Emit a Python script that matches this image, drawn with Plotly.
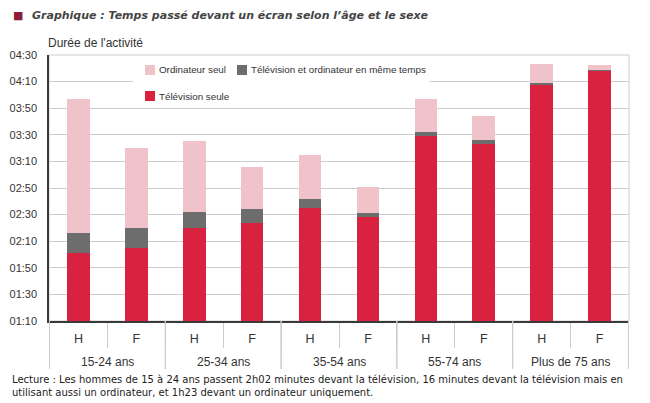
import plotly.graph_objects as go

# ---- data (minutes) ----
groupes = ["15-24 ans", "15-24 ans", "25-34 ans", "25-34 ans", "35-54 ans",
           "35-54 ans", "55-74 ans", "55-74 ans", "Plus de 75 ans", "Plus de 75 ans"]
sexes = ["H", "F", "H", "F", "H", "F", "H", "F", "H", "F"]
tv_seule = [121, 125, 140, 144, 155, 148, 209, 203, 248, 258]
tv_ordi = [15, 15, 12, 10, 7, 3, 3, 3, 1, 0.5]
ordi_seul = [101, 60, 53, 32, 33, 20, 25, 18, 14, 4]
y_tick_labels = ["01:10", "01:30", "01:50", "02:10", "02:30", "02:50",
                 "03:10", "03:30", "03:50", "04:10", "04:30"]
series_names = ["Télévision seule", "Télévision et ordinateur en même temps", "Ordinateur seul"]


def to_min(s):
    h, m = s.split(":")
    return int(h) * 60 + int(m)


y_tick_vals = [to_min(s) for s in y_tick_labels]
cats = [g + " | " + s for g, s in zip(groupes, sexes)]

W, H = 650, 403
L, R, T, B = 49, 21, 55, 82
PW, PH = W - L - R, H - T - B


def px(x):
    return (x - L) / PW


def py(y):
    return (H - B - y) / PH


RED = "#d8223f"
GRAY = "#6d6d6d"
PINK = "#f0c3cb"
GRID = "#cccccc"
AXIS = "#3a3a3a"
COLORS = [RED, GRAY, PINK]
SANS = "Liberation Sans, Arial, sans-serif"

fig = go.Figure()
for name, vals, col in zip(series_names, [tv_seule, tv_ordi, ordi_seul], COLORS):
    fig.add_bar(x=cats, y=vals, name=name, marker=dict(color=col, line=dict(width=0)))

# group labels and dividers (positions from category indices)
group_order = []
for g in groupes:
    if g not in group_order:
        group_order.append(g)
annotations = []
shapes = [
    dict(type="rect", xref="paper", yref="paper", x0=0, x1=1, y0=0, y1=1,
         line=dict(color=GRID, width=1), layer="below"),
    dict(type="rect", xref="paper", yref="paper", x0=px(133), x1=px(430),
         y0=py(96), y1=py(58), fillcolor="white", line=dict(width=0), layer="above"),
]
for g in group_order:
    idx = [i for i, gg in enumerate(groupes) if gg == g]
    annotations.append(dict(xref="x", yref="paper", x=sum(idx) / len(idx), y=py(362),
                            xanchor="center", yanchor="middle", showarrow=False, text=g,
                            font=dict(family=SANS, size=12, color="#333333")))
    for b in (min(idx) - 0.5, max(idx) + 0.5):
        shapes.append(dict(type="line", xref="x", yref="paper", x0=b, x1=b,
                           y0=0, y1=py(369), line=dict(color=GRID, width=1)))

# legend (drawn as squares + labels)
legend_pos = {"Ordinateur seul": (145, 70), "Télévision et ordinateur en même temps": (237, 70),
              "Télévision seule": (145, 96)}
for name, col in zip(series_names, COLORS):
    lx, ly = legend_pos[name]
    shapes.append(dict(type="rect", xref="paper", yref="paper", x0=px(lx), x1=px(lx + 10),
                       y0=py(ly + 5), y1=py(ly - 5), fillcolor=col, line=dict(width=0),
                       layer="above"))
    annotations.append(dict(xref="paper", yref="paper", x=px(lx + 12), y=py(ly),
                            xanchor="left", yanchor="middle", showarrow=False, text=name,
                            font=dict(family=SANS, size=9.8, color="#333333")))

annotations += [
    dict(xref="paper", yref="paper", x=px(11), y=py(15), xanchor="left", yanchor="middle",
         showarrow=False, text="■",
         font=dict(family="DejaVu Sans", size=11, color="#8c1c3c")),
    dict(xref="paper", yref="paper", x=px(30), y=py(15), xanchor="left", yanchor="middle",
         showarrow=False,
         text="<b><i>Graphique : Temps passé devant un écran selon l’âge et le sexe</i></b>",
         font=dict(family="DejaVu Sans", size=11, color="#454545")),
    dict(xref="paper", yref="paper", x=px(46), y=py(43), xanchor="left", yanchor="middle",
         showarrow=False, text="Durée de l'activité",
         font=dict(family=SANS, size=12, color="#333333")),
    dict(xref="paper", yref="paper", x=px(10), y=py(386), xanchor="left", yanchor="middle",
         showarrow=False, align="left",
         text="Lecture : Les hommes de 15 à 24 ans passent 2h02 minutes devant la télévision, 16 minutes devant la télévision mais en<br>utilisant aussi un ordinateur, et 1h23 devant un ordinateur uniquement.",
         font=dict(family="DejaVu Sans", size=10, color="#222222")),
]

fig.update_layout(
    width=W, height=H,
    margin=dict(l=L, r=R, t=T, b=B, autoexpand=False),
    paper_bgcolor="white", plot_bgcolor="white",
    barmode="stack", bargap=0.61,
    font=dict(family=SANS, size=12, color="#333333"),
    showlegend=False,
    xaxis=dict(type="category", tickvals=cats, ticktext=sexes,
               showline=True, linecolor=AXIS, linewidth=2,
               ticks="outside", tickson="boundaries", ticklen=25, tickcolor=GRID,
               ticklabelstandoff=5, automargin=False, showgrid=False,
               tickfont=dict(family=SANS, size=12.5, color="#333333")),
    yaxis=dict(range=[70, 270], tickvals=y_tick_vals, ticktext=y_tick_labels,
               showline=True, linecolor=AXIS, linewidth=1.5, ticks="",
               showgrid=True, gridcolor=GRID, gridwidth=1, zeroline=False,
               ticklabelstandoff=8, automargin=False,
               tickfont=dict(family=SANS, size=11, color="#333333")),
    shapes=shapes,
    annotations=annotations,
)

fig.write_html("out.html", config={"displayModeBar": False},
               post_script="document.body.style.margin='0';document.body.style.overflow='hidden';")
